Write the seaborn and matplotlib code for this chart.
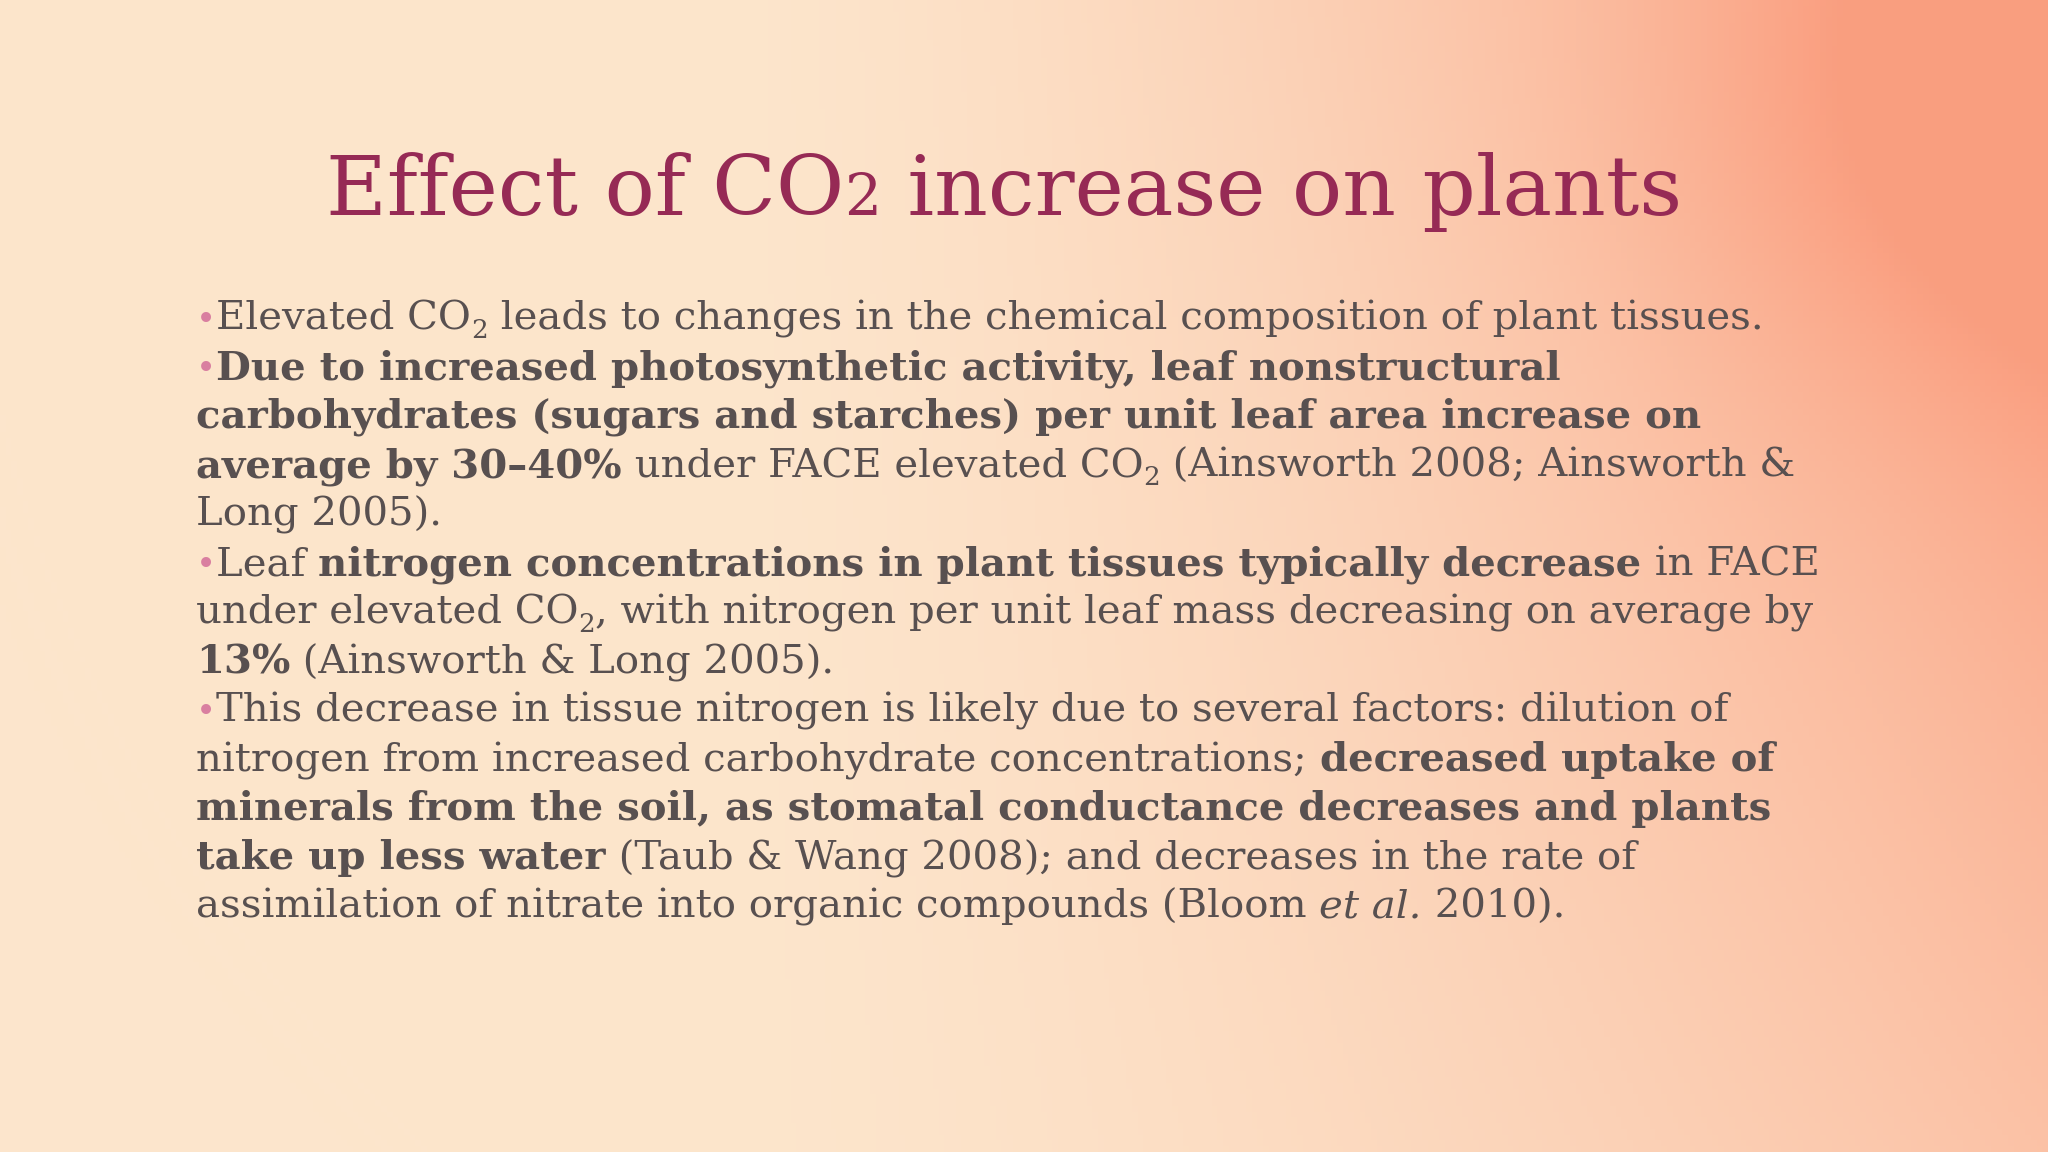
import numpy as np
import matplotlib
matplotlib.use("Agg")
import matplotlib.pyplot as plt
import seaborn as sns

sns.set_theme(style="white")
plt.rcParams['font.family'] = ['DejaVu Serif', 'Liberation Serif']

title_runs = [("Effect of CO", 1.0, 0), ("2", 0.7, 0), (" increase on plants", 1.0, 0)]

# each line: list of (text, kind) ; kind: b=bullet, n=normal, B=bold, i=italic, s=subscript
body_lines = [
    [("•", "b"), ("Elevated CO", "n"), ("2", "s"), (" leads to changes in the chemical composition of plant tissues.", "n")],
    [("•", "b"), ("Due to increased photosynthetic activity, leaf nonstructural", "B")],
    [("carbohydrates (sugars and starches) per unit leaf area increase on", "B")],
    [("average by 30–40%", "B"), (" under FACE elevated CO", "n"), ("2", "s"), (" (Ainsworth 2008; Ainsworth &", "n")],
    [("Long 2005).", "n")],
    [("•", "b"), ("Leaf ", "n"), ("nitrogen concentrations in plant tissues typically decrease", "B"), (" in FACE", "n")],
    [("under elevated CO", "n"), ("2", "s"), (", with nitrogen per unit leaf mass decreasing on average by", "n")],
    [("13%", "B"), (" (Ainsworth & Long 2005).", "n")],
    [("•", "b"), ("This decrease in tissue nitrogen is likely due to several factors: dilution of", "n")],
    [("nitrogen from increased carbohydrate concentrations; ", "n"), ("decreased uptake of", "B")],
    [("minerals from the soil, as stomatal conductance decreases and plants", "B")],
    [("take up less water", "B"), (" (Taub & Wang 2008); and decreases in the rate of", "n")],
    [("assimilation of nitrate into organic compounds (Bloom ", "n"), ("et al.", "i"), (" 2010).", "n")],
]

W, H = 2048, 1152
fig = plt.figure(figsize=(W / 100, H / 100), dpi=100)
ax = fig.add_axes([0, 0, 1, 1])
ax.set_axis_off()

# background gradient
yy, xx = np.mgrid[0:1:200j, 0:1:360j]
c_left = np.array([0.99, 0.90, 0.80])
c_right = np.array([0.98, 0.62, 0.50])
t = np.clip((xx - 0.35) / 0.65, 0, 1) ** 1.5 * (1 - 0.5 * yy)
t += 0.35 * np.exp(-((xx - 1.0) ** 2 / 0.03 + (yy - 0.1) ** 2 / 0.06))
t = np.clip(t, 0, 1)
img = c_left[None, None, :] * (1 - t[..., None]) + c_right[None, None, :] * t[..., None]
ax.imshow(img, extent=[0, 1, 0, 1], aspect='auto', origin='upper')
ax.set_xlim(0, 1); ax.set_ylim(0, 1)

renderer = fig.canvas.get_renderer()

def draw_runs(x_px, y_px, runs):
    x = x_px
    for txt, size, style, weight, color, dy in runs:
        t = fig.text(x / W, 1 - (y_px - dy) / H, txt, fontsize=size, fontstyle=style,
                     fontweight=weight, color=color, va='baseline', ha='left')
        bb = t.get_window_extent(renderer=renderer)
        x += bb.width

# title
ts = 60
draw_runs(326, 215, [(s, ts * f, 'normal', 'normal', '#962a55', d) for s, f, d in title_runs])

fs = 29
body_col = '#585050'
y0 = 330
lh = 49
for i, line in enumerate(body_lines):
    runs = []
    for txt, kind in line:
        if kind == "b":
            runs.append((txt, fs * 0.85, 'normal', 'normal', '#d97fa0', 0))
        elif kind == "B":
            runs.append((txt, fs, 'normal', 'bold', body_col, 0))
        elif kind == "i":
            runs.append((txt, fs, 'italic', 'normal', body_col, 0))
        elif kind == "s":
            runs.append((txt, fs * 0.65, 'normal', 'normal', body_col, -8))
        else:
            runs.append((txt, fs, 'normal', 'normal', body_col, 0))
    draw_runs(196, y0 + i * lh, runs)

fig.savefig("out.png", dpi=100)
